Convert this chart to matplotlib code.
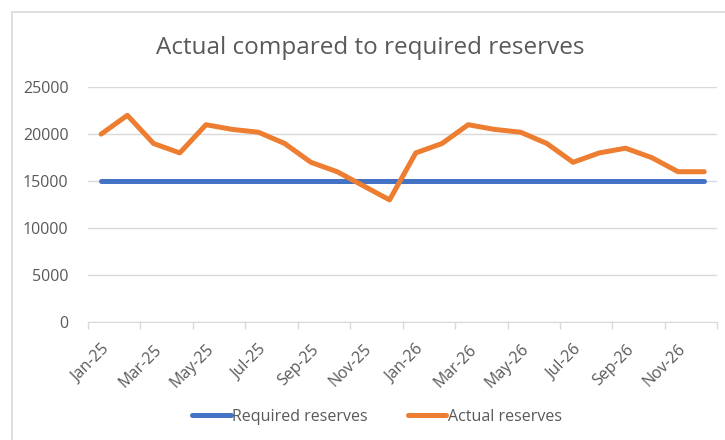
import matplotlib.pyplot as plt
from matplotlib.patches import Rectangle

plt.rcParams['font.family'] = ['Open Sans', 'DejaVu Sans']

months = ['Jan-25', 'Feb-25', 'Mar-25', 'Apr-25', 'May-25', 'Jun-25',
          'Jul-25', 'Aug-25', 'Sep-25', 'Oct-25', 'Nov-25', 'Dec-25',
          'Jan-26', 'Feb-26', 'Mar-26', 'Apr-26', 'May-26', 'Jun-26',
          'Jul-26', 'Aug-26', 'Sep-26', 'Oct-26', 'Nov-26', 'Dec-26']
required = [15000] * 24
actual = [20000, 22000, 19000, 18000, 21000, 20500, 20200, 19000, 17000, 16000, 14500, 13000,
          18000, 19000, 21000, 20500, 20200, 19000, 17000, 18000, 18500, 17500, 16000, 16000]

grey = '#595959'
fig = plt.figure(figsize=(7.25, 4.4), dpi=100)
ax = fig.add_axes([0.1214, 0.268, 0.868, 0.534])

x = list(range(len(months)))
ax.plot(x, required, color='#4472C4', lw=3.6, solid_capstyle='round',
        solid_joinstyle='round', label='Required reserves')
ax.plot(x, actual, color='#ED7D31', lw=3.6, solid_capstyle='round',
        solid_joinstyle='round', label='Actual reserves')

ax.set_xlim(-0.5, len(months) - 0.5)
ax.set_ylim(0, 25000)
ax.set_yticks(range(0, 25001, 5000))
ax.grid(axis='y', color='#D9D9D9', lw=1)
ax.set_axisbelow(True)
ax.tick_params(axis='y', length=0, pad=14, labelsize=11.5, labelcolor=grey)

# labels every second month, tick marks on category boundaries
ax.set_xticks(x[::2])
ax.set_xticklabels(months[::2], rotation=45, ha='right', rotation_mode='anchor')
ax.set_xticks([i - 0.5 for i in range(0, len(months) + 1, 2)], minor=True)
ax.tick_params(axis='x', which='major', length=0, pad=14, labelsize=11.5, labelcolor=grey)
ax.tick_params(axis='x', which='minor', length=5, color='#D9D9D9', width=1)

for s in ['top', 'right', 'left']:
    ax.spines[s].set_visible(False)
ax.spines['bottom'].set_color('#D9D9D9')

fig.text(0.51, 0.89, 'Actual compared to required reserves', ha='center', va='center',
         fontsize=17.5, color=grey)

fig.legend(loc='center', bbox_to_anchor=(0.52, 0.053), ncol=2, frameon=False,
           fontsize=11.5, handlelength=2.4, handletextpad=0.1, columnspacing=2.5,
           labelcolor=grey)

# chart border
fig.patches.append(Rectangle((12 / 725, -0.1), 1.0, 0.9727 + 0.1, transform=fig.transFigure,
                             fill=False, edgecolor='#D9D9D9', lw=1.2))

fig.savefig('out.png', dpi=100)
